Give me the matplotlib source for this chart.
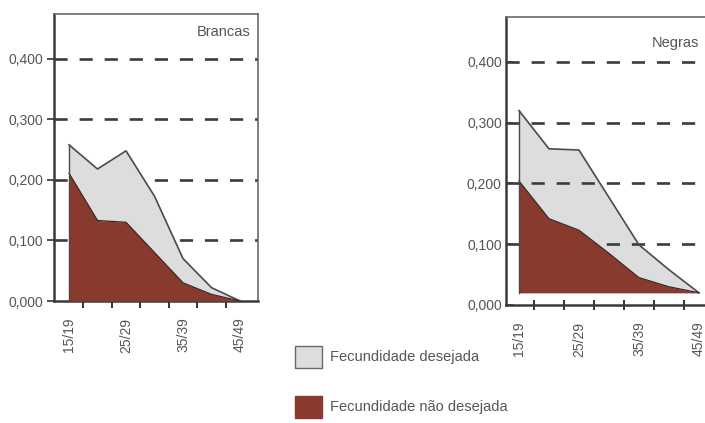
import numpy as np
import matplotlib
matplotlib.use('Agg')
import matplotlib.pyplot as plt
from matplotlib.patches import Patch

plt.rcParams['font.family'] = ['Liberation Sans', 'DejaVu Sans']

# age groups (only every second one is labelled)
age_groups = ['15/19', '20/24', '25/29', '30/34', '35/39', '40/44', '45/49']
tick_labels = ['15/19', '', '25/29', '', '35/39', '', '45/49']
y_ticks = [0.0, 0.1, 0.2, 0.3, 0.4]
y_tick_labels = ['0,000', '0,100', '0,200', '0,300', '0,400']

# total fertility (top line) and unwanted fertility (dark area)
brancas_total = [0.258, 0.218, 0.248, 0.173, 0.070, 0.022, 0.0]
brancas_nao_desejada = [0.211, 0.133, 0.130, 0.080, 0.030, 0.011, 0.0]
brancas_base = 0.0

negras_total = [0.320, 0.257, 0.255, 0.177, 0.099, 0.058, 0.020]
negras_nao_desejada = [0.204, 0.142, 0.123, 0.085, 0.045, 0.030, 0.020]
negras_base = 0.02

light = '#dddddd'
dark = '#883a2f'
edge = '#4a4a4a'
text_col = '#555555'

fig = plt.figure(figsize=(7.05, 4.23), dpi=100)


def draw_panel(ax, total, unwanted, base, title, title_pos, xlim, grid_over_light,
               ytick_dir, xtick_dir):
    x = np.arange(len(age_groups))
    z_grid = 2 if grid_over_light else 0.5
    for v in y_ticks[1:]:
        ax.axhline(v, color='#3c3c3c', lw=1.9, ls=(0, (5, 4.5)), zorder=z_grid)
    ax.fill_between(x, base, total, color=light, lw=0, zorder=1)
    ax.plot(x, total, color=edge, lw=1.2, zorder=4)
    ax.fill_between(x, base, unwanted, color=dark, lw=0, zorder=3)
    ax.plot(x, unwanted, color='#3a2a26', lw=0.9, zorder=4)
    ax.plot([x[0], x[0]], [base, total[0]], color=edge, lw=1.0, zorder=4)

    ax.set_xlim(*xlim)
    ax.set_ylim(0, 0.474)
    ax.set_yticks(y_ticks)
    ax.set_yticklabels(y_tick_labels, fontsize=10, color=text_col)
    ax.set_xticks(x)
    ax.set_xticklabels(tick_labels, rotation=90, fontsize=10, color=text_col)
    # tick marks sit between the age groups
    ax.set_xticks(x[:-1] + 0.5, minor=True)
    ax.tick_params(axis='x', which='major', length=0, pad=12)
    ax.tick_params(axis='x', which='minor', length=7 if xtick_dir == 'inout' else 5,
                   width=1.4, color='#333333', direction=xtick_dir)
    ax.tick_params(axis='y', length=5, width=1.2, color='#333333', direction=ytick_dir,
                   pad=3)
    for s in ['left', 'bottom']:
        ax.spines[s].set_linewidth(1.8)
        ax.spines[s].set_color('#3a3a3a')
    for s in ['top', 'right']:
        ax.spines[s].set_linewidth(1.2)
        ax.spines[s].set_color('#6a6a6a')
    ax.text(title_pos[0], title_pos[1], title, transform=ax.transAxes, ha='right',
            va='top', fontsize=10.5, color=text_col)


ax1 = fig.add_axes([0.0766, 0.2884, 0.2894, 0.6785])
draw_panel(ax1, brancas_total, brancas_nao_desejada, brancas_base, 'Brancas',
           (0.962, 0.962), (-0.526, 6.63), False, 'out', 'out')

ax2 = fig.add_axes([0.7177, 0.279, 0.292, 0.681])
draw_panel(ax2, negras_total, negras_nao_desejada, negras_base, 'Negras',
           (0.937, 0.935), (-0.433, 6.43), True, 'in', 'inout')

handles = [Patch(facecolor=light, edgecolor='#6a6a6a', lw=1.0),
           Patch(facecolor=dark, edgecolor=dark, lw=1.0)]
fig.legend(handles, ['Fecundidade desejada', 'Fecundidade não desejada'],
           loc='upper left', bbox_to_anchor=(0.4184, 0.182), frameon=False,
           fontsize=10.5, labelcolor=text_col, handlelength=1.85, handleheight=1.9,
           labelspacing=1.95, handletextpad=0.55, borderaxespad=0, borderpad=0)

fig.savefig('out.png', dpi=100)
